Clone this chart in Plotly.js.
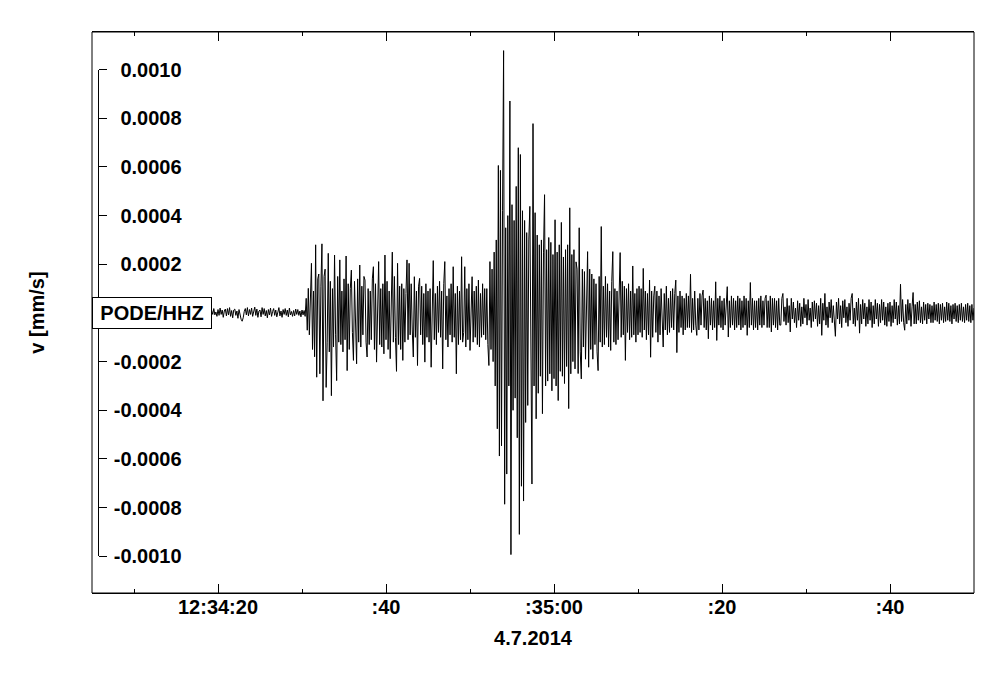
<!DOCTYPE html>
<html><head><meta charset="utf-8">
<script src="https://cdn.plot.ly/plotly-3.0.1.min.js"></script>
<style>html,body{margin:0;padding:0;background:#fff}</style>
</head><body><div id="chart" style="width:1000px;height:677px"></div>
<script>
// Station / channel and time base
const stationLabel = 'PODE/HHZ';
const dateLabel = '4.7.2014';
const startTime = '2014-07-04 12:34:05';
const endTime = '2014-07-04 12:35:50';
const sampleIntervalMs = 125;

// Vertical ground velocity in nm/s (1e-6 mm/s), 8 samples per second
const preEvent = [
  4,-8,12,-6,10,-14,6,2,
  -10,14,-4,8,-12,6,16,-8,
  10,-6,-14,8,12,-10,4,14,
  -8,6,-16,10,8,-4,12,-10,
  6,16,-12,4,-8,10,-6,12,
  -14,8,10,-12,6,-4,14,-8,
  4,-10,12,8,-16,6,-6,10,
  12,-8,4,-14,10,6,-10,8,
  -6,14,-12,10,-4,8,-14,6,
  10,-6,16,-10,4,-12,8,12,
  -8,6,-10,14,-6,10,-12,4,
  8,-14,12,-4,10,-8,6,-12,
  14,-6,8,-10,12,4,-14,10,
  -4,12,-8,6,-16,10,14,-10,
  6,-12,10,-6,18,-8,4,-14,
  14,-10,20,-6,12,-18,8,16,
  -12,18,-8,22,-14,10,-20,12,
  16,-10,8,-22,14,-16,-26,-34,
  -20,6,18,-8,22,-12,14,-6,
  20,-14,10,24,-10,16,-18,8,
  12,-16,22,-6,18,-12,10,-20,
  14,-8,20,-14,6,18,-10,12,
  -16,10,22,-12,8,-18,14,-6,
  18,-10,12,-16,20,-8,6,-14,
  10,-12,16,-6,14,-10,8,-16,
  12,-8,10,-14
];
const pWave = [
  60,-71,101,-90,
  120,204,-150,90,-180,280,-264,140,
  160,-250,110,284,-361,150,180,-306,
  -120,245,-160,130,-340,100,-140,238,
  -90,-278,150,-120,218,-130,90,-160,
  140,-110,234,-237,120,-150,100,176,
  -80,-195,130,-100,-209,140,-120,197,
  -140,110,-90,150,135,-120,-181,100,
  -130,90,-110,140,190,-150,120,-202,
  80,211,-130,100,-140,120,-168,238,
  -110,130,-150,90,-188,140,250,-120,
  150,-100,-240,204,-130,110,-150,120,
  -195,100,-120,80,218,-110,204,-90,
  120,-70,-181,149,-100,90,-216,110,
  142,-90,110,-130,80,-202,120,-100,
  90,-120,100,-223,70,215,-110,80,
  -130,110,-80,130,-100,90,-230,120,
  211,-110,70,-140,100,-90,120,-120,
  190,-100,80,-250,110,-130,90,-110,
  231,-120,-80,190,-140,100,-110,120,
  -154,60,149,-120,90,-100,110,-130,
  135,-140,80,-100,120,-90,100,-110,
  100,-130,-216,211
];
const sWave = [
  -150,180,-200,250,
  -300,300,-476,606,-588,586,-546,420,
  1078,-786,350,-662,400,-300,871,-993,
  445,-400,380,-350,520,-513,679,-910,
  651,-712,420,-773,380,-450,330,-380,
  300,438,-400,-703,778,-300,412,-435,
  320,-330,280,-260,300,-414,250,486,
  -300,260,-280,310,-250,290,-320,240,
  -270,383,-300,250,-360,280,-240,372,
  -260,230,-290,260,-220,280,-393,432,
  -250,240,-200,260,-230,210,180,-249,
  350,-160,-271,180,-140,170,-190,150,
  252,-223,180,-150,160,-190,140,-130
];
const coda = [
  120,-160,-237,150,-120,355,-140,110,
  -130,150,-100,120,-140,90,-154,130,
  252,-120,100,-130,90,-110,120,248,
  -100,130,-90,110,-195,100,-80,120,
  -110,90,-100,193,-90,80,-120,100,
  -90,110,-80,100,-100,183,-70,90,
  -110,80,-90,135,-182,90,-100,70,
  110,-80,90,-120,70,-90,100,-70,
  -140,80,-70,110,-90,60,-80,90,
  -60,100,-70,80,135,-163,70,-80,
  90,-60,70,-90,60,-70,80,-60,
  70,-60,159,-80,60,-70,90,-50,
  -92,60,-70,80,-50,70,94,-60,
  60,-70,50,-106,70,-50,60,-70,
  50,-60,128,-113,60,-50,70,-60,
  50,-70,60,-50,70,108,-99,50,
  -60,70,-50,60,-70,50,-60,70,
  -50,60,-70,50,-60,70,-50,60,
  -92,50,-60,125,-50,60,-70,50,
  -60,50,-70,60,-50,70,-60,50,
  -50,60,73,-60,50,-60,70,-78,
  60,-50,60,-60,50,-70,60,-50,
  -50,60,80,-35,25,-50,60,-40,
  30,-78,60,-25,45,-40,20,-60,
  50,-30,40,-55,25,-45,60,-20,
  35,-50,55,-30,20,-60,45,-35,
  50,-25,40,-55,30,-45,60,-92,
  40,-30,80,-50,25,-60,45,-20,
  55,-40,30,-60,-96,45,-25,60,
  -45,30,-60,50,-20,55,-40,25,
  -55,40,-30,60,80,-45,20,-55,
  45,-30,60,-83,35,-45,55,-25,
  40,-55,25,-45,55,-30,45,-60,
  30,-45,55,-25,40,-55,35,-40,
  55,-30,45,-50,25,-55,40,-35,
  45,-55,30,-40,55,-25,45,-50,
  30,-45,118,-35,55,-40,-71,35,
  -45,55,-30,40,-55,25,84,-45,
  35,-45,45,-30,50,-40,25,-45,
  45,-30,35,-45,40,-25,35,-40,
  30,-40,45,-30,35,-35,40,-45,
  35,-30,40,-40,25,-35,45,-30,
  40,-35,30,-45,35,-25,40,-35,
  30,-40,35,-30,40,-35,25,-40,
  35,-30,40,-35,30,-40,35,-30,
  20
];

// Axis ticks (zero label is covered by the station box in the reference)
const xTickVals = ['2014-07-04 12:34:20','2014-07-04 12:34:40','2014-07-04 12:35:00','2014-07-04 12:35:20','2014-07-04 12:35:40'];
const xTickText = ['12:34:20',':40',':35:00',':20',':40'];
const xMinorVals = ['2014-07-04 12:34:10','2014-07-04 12:34:30','2014-07-04 12:34:50','2014-07-04 12:35:10','2014-07-04 12:35:30'];
const yTickVals = [-0.001,-0.0008,-0.0006,-0.0004,-0.0002,0,0.0002,0.0004,0.0006,0.0008,0.001];
const yTickText = ['-0.0010','-0.0008','-0.0006','-0.0004','-0.0002','','0.0002','0.0004','0.0006','0.0008','0.0010'];
const yRange = [-0.0011508, 0.0011545];
const yAxisSpan = [-0.001, 0.001];

const NM_TO_MM = 1e-6;
const velocity = preEvent.concat(pWave, sWave, coda).map(v => v * NM_TO_MM);

const FONT = 'Liberation Sans, Arial, Helvetica, sans-serif';
const boldFont = {family: FONT, size: 20, color: '#000', weight: 'bold'};
const dom = v => (v - yRange[0]) / (yRange[1] - yRange[0]);

const traces = [
  {type: 'scatter', mode: 'lines', x0: startTime, dx: sampleIntervalMs, y: velocity,
   line: {color: '#000', width: 1}, hoverinfo: 'skip', xaxis: 'x', yaxis: 'y'},
  {type: 'scatter', mode: 'lines', x: [], y: [], xaxis: 'x', yaxis: 'y2', hoverinfo: 'skip'}
];

const layout = {
  width: 1000, height: 677,
  margin: {l: 92, r: 26, t: 32, b: 84, pad: 0},
  paper_bgcolor: '#fff', plot_bgcolor: 'rgba(0,0,0,0)',
  showlegend: false,
  font: boldFont,
  xaxis: {
    type: 'date', range: [startTime, endTime],
    tickmode: 'array', tickvals: xTickVals, ticktext: xTickText,
    ticks: 'inside', ticklen: 9, tickwidth: 1, tickcolor: '#000',
    ticklabelstandoff: -4,
    showline: true, linecolor: '#000', linewidth: 1, mirror: 'ticks',
    showgrid: false, zeroline: false, tickfont: boldFont,
    minor: {tickmode: 'array', tickvals: xMinorVals, ticks: 'inside', ticklen: 4, tickwidth: 1, tickcolor: '#000', showgrid: false},
    title: {text: dateLabel, font: boldFont, standoff: 13}
  },
  yaxis: {
    range: yRange, anchor: 'free', position: 0.1016, side: 'left',
    showline: false, ticks: '', tickmode: 'array', tickvals: yTickVals, ticktext: yTickText,
    showgrid: false, zeroline: false, tickfont: boldFont
  },
  yaxis2: {
    domain: [dom(yAxisSpan[0]), dom(yAxisSpan[1])], range: yAxisSpan,
    anchor: 'free', position: 0.0068, side: 'right',
    ticks: 'outside', ticklen: 8, tickwidth: 1, tickcolor: '#000',
    tickmode: 'array', tickvals: yTickVals, showticklabels: false,
    showline: true, linecolor: '#000', linewidth: 1, showgrid: false, zeroline: false
  },
  shapes: [{type: 'rect', xref: 'paper', yref: 'paper', x0: 0, x1: 1, y0: 0, y1: 1, line: {color: '#000', width: 1}, layer: 'above'}],
  annotations: [
    {xref: 'paper', x: 0, xanchor: 'left', yref: 'y', y: 0, yanchor: 'middle',
     text: stationLabel, showarrow: false, bgcolor: '#fff', bordercolor: '#000', borderwidth: 1,
     borderpad: 4, width: 110, height: 22, align: 'center', font: boldFont},
    {xref: 'paper', x: -0.0627, xanchor: 'center', yref: 'y', y: 0, yanchor: 'middle',
     text: 'v [mm/s]', textangle: -90, showarrow: false, font: boldFont}
  ]
};

Plotly.newPlot('chart', traces, layout, {displayModeBar: false, staticPlot: true});
</script>
</body></html>
